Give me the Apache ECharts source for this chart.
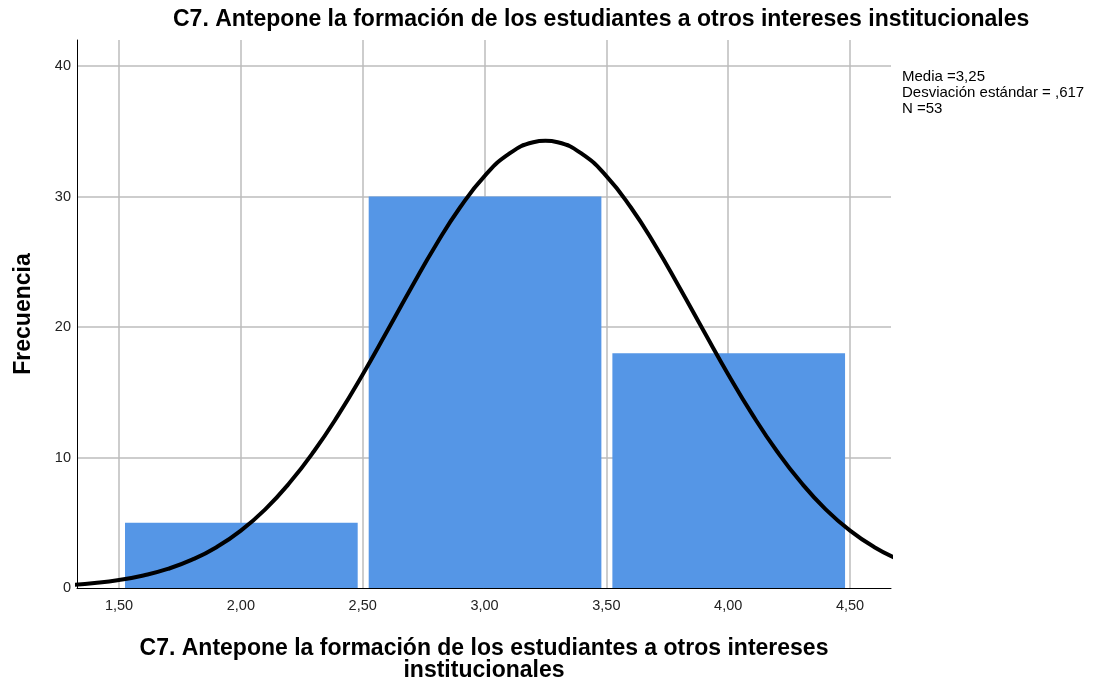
<!DOCTYPE html>
<html>
<head>
  <meta charset="utf-8" />
  <title>C7 histograma</title>
  <style>
    html, body { margin: 0; padding: 0; background: #fff; }
    #main { width: 1094px; height: 684px; }
  </style>
</head>
<body>
  <div id="main"></div>
  <script src="https://cdn.jsdelivr.net/npm/echarts@6/dist/echarts.min.js"></script>
  <script>
    // intervalos del histograma: [desde, hasta, frecuencia]
    var binStart = [1.5, 2.5, 3.5];
    var binEnd = [2.5, 3.5, 4.5];
    var frecuencia = [5, 30, 18];

    // curva normal (x, frecuencia)
    var curvaX = [1.3, 1.4, 1.5, 1.6, 1.7, 1.8, 1.9, 2.0, 2.1, 2.2, 2.3, 2.4, 2.5, 2.6, 2.7, 2.8, 2.9, 3.0, 3.1, 3.2, 3.25,
      3.3, 3.4, 3.5, 3.6, 3.7, 3.8, 3.9, 4.0, 4.1, 4.2, 4.3, 4.4, 4.5, 4.6, 4.7];
    var curvaY = [0.23, 0.38, 0.61, 0.96, 1.46, 2.17, 3.13, 4.40, 6.03, 8.06, 10.48, 13.27, 16.37, 19.68, 23.03, 26.27, 29.18, 31.57, 33.27, 34.16, 34.27,
      34.16, 33.27, 31.57, 29.18, 26.27, 23.03, 19.68, 16.37, 13.27, 10.48, 8.06, 6.03, 4.40, 3.13, 2.17];

    var titulo = 'C7. Antepone la formación de los estudiantes a otros intereses institucionales';
    var tituloEjeX = 'C7. Antepone la formación de los estudiantes a otros intereses\ninstitucionales';
    var estadisticos = 'Media =3,25\nDesviación estándar = ,617\nN =53';

    var barras = [];
    for (var i = 0; i < frecuencia.length; i++) {
      barras.push([binStart[i], binEnd[i], frecuencia[i]]);
    }
    var curva = [];
    for (var j = 0; j < curvaX.length; j++) {
      curva.push([curvaX[j], curvaY[j]]);
    }

    var chart = echarts.init(document.getElementById('main'));
    chart.setOption({
      animation: false,
      textStyle: { fontFamily: 'Liberation Sans, Arial, sans-serif' },
      title: [
        {
          text: titulo,
          left: 168,
          top: 3,
          textStyle: { fontSize: 23, fontWeight: 'bold', color: '#000' }
        },
        {
          text: estadisticos,
          left: 897,
          top: 64,
          textStyle: { fontSize: 15, fontWeight: 'normal', color: '#000', lineHeight: 16 }
        }
      ],
      grid: { left: 77, right: 203, top: 40, bottom: 96, outerBoundsMode: 'none' },
      xAxis: {
        type: 'value',
        min: 1.3276,
        max: 4.668,
        minInterval: 0.5,
        maxInterval: 0.5,
        name: tituloEjeX,
        nameLocation: 'middle',
        nameGap: 50,
        nameTextStyle: { fontSize: 23, fontWeight: 'bold', color: '#000', lineHeight: 22 },
        axisLine: { show: true, onZero: false, lineStyle: { color: '#000', width: 1 } },
        axisTick: { show: false },
        axisLabel: {
          color: '#222',
          fontSize: 14.5,
          margin: 10,
          showMinLabel: false,
          showMaxLabel: false,
          formatter: function (v) { return v.toFixed(2).replace('.', ','); }
        },
        splitLine: { show: true, showMinLine: false, showMaxLine: false, lineStyle: { color: '#bdbdbd', width: 1.5 } }
      },
      yAxis: {
        type: 'value',
        min: 0,
        max: 42,
        interval: 10,
        name: 'Frecuencia',
        nameLocation: 'middle',
        nameGap: 42,
        nameTextStyle: { fontSize: 23, fontWeight: 'bold', color: '#000' },
        axisLine: { show: true, lineStyle: { color: '#000', width: 1 } },
        axisTick: { show: false },
        axisLabel: { color: '#222', fontSize: 14.5, margin: 6, showMaxLabel: false },
        splitLine: { show: true, showMinLine: false, showMaxLine: false, lineStyle: { color: '#bdbdbd', width: 1.5 } }
      },
      series: [
        {
          type: 'custom',
          data: barras,
          encode: { x: [0, 1], y: 2 },
          renderItem: function (params, api) {
            var p0 = api.coord([api.value(0), api.value(2)]);
            var p1 = api.coord([api.value(1), 0]);
            return {
              type: 'rect',
              shape: { x: p0[0] + 6, y: p0[1], width: p1[0] - p0[0] - 11, height: p1[1] - p0[1] },
              style: { fill: '#5596e6' }
            };
          },
          z: 2
        },
        {
          type: 'line',
          data: curva,
          smooth: true,
          showSymbol: false,
          lineStyle: { color: '#000', width: 4 },
          z: 3
        }
      ]
    });
  </script>
</body>
</html>
